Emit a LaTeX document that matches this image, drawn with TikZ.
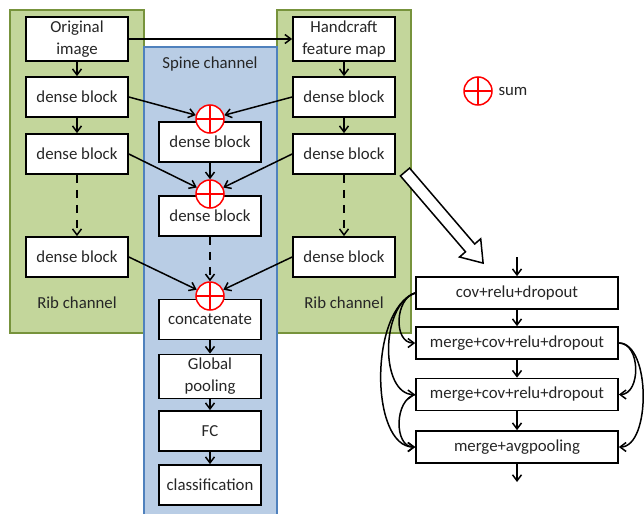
\documentclass[tikz,border=0pt]{standalone}
\usepackage{fontspec}
\setmainfont{Carlito}
\usetikzlibrary{arrows.meta}
\definecolor{ribfill}{HTML}{C3D69B}
\definecolor{ribdraw}{HTML}{77933C}
\definecolor{spinefill}{HTML}{B9CDE5}
\definecolor{spinedraw}{HTML}{4F81BD}
\newcommand{\twoline}[2]{\raisebox{-4pt}{\renewcommand{\arraystretch}{1.1}\begin{tabular}{@{}c@{}}#1\\#2\end{tabular}}}
\begin{document}
\begin{tikzpicture}[x=1pt,y=-1pt,
  txt/.style={font=\fontsize{16.8}{20}\selectfont, text=black!85},
  blk/.style={draw, line width=1.7pt, fill=white, minimum width=102pt, minimum height=40pt, inner sep=0pt, align=center, txt},
  fbox/.style={draw, line width=1.7pt, fill=white, minimum width=202pt, minimum height=32pt, inner sep=0pt, txt},
  sumc/.style={circle, draw=red, line width=1.5pt, fill=white, minimum size=28pt, inner sep=0pt,
    path picture={\draw[red, line width=1.2pt] (path picture bounding box.north) -- (path picture bounding box.south) (path picture bounding box.west) -- (path picture bounding box.east);}},
  arr/.style={-{Straight Barb[length=6pt,width=9pt]}, line width=1.5pt},
  dsh/.style={dash pattern=on 8pt off 7pt},
]
\useasboundingbox (0,0) rectangle (644,514);
\fill[white] (0,0) rectangle (644,514);
% panels
\draw[ribdraw, fill=ribfill, line width=1.5pt] (10,10) rectangle (144,333);
\draw[ribdraw, fill=ribfill, line width=1.5pt] (277,10) rectangle (411,333);
\fill[spinefill] (144,47) rectangle (277,514);
\draw[spinedraw, line width=1.2pt] (144,514) -- (144,47) -- (277,47) -- (277,514);
% labels
\node[txt] (spl) at (210,64) {Spine channel};
\node[txt] (rll) at (77,303) {Rib channel};
\node[txt] (rlr) at (344,303) {Rib channel};
% left column
\node[blk] (orig) at (77,39) {\twoline{Original}{image}};
\node[blk] (l1) at (77,97) {dense block};
\node[blk] (l2) at (77,154) {dense block};
\node[blk] (l3) at (77,257) {dense block};
% right column
\node[blk] (hand) at (344,39) {\twoline{Handcraft}{feature map}};
\node[blk] (r1) at (344,97) {dense block};
\node[blk] (r2) at (344,154) {dense block};
\node[blk] (r3) at (344,257) {dense block};
% spine
\node[blk] (s1) at (210,142) {dense block};
\node[blk] (s2) at (210,216) {dense block};
\node[blk] (cat) at (210,319.5) {concatenate};
\node[blk] (gp) at (210,376.5) {\twoline{Global}{pooling}};
\node[blk] (fc) at (210,431) {FC};
\node[blk] (cls) at (210,485) {classification};
\node[sumc] (c1) at (210,119) {};
\node[sumc] (c2) at (210,194) {};
\node[sumc] (c3) at (210,296) {};
% legend
\node[sumc] (leg) at (478,91) {};
\node[txt, anchor=west] (legt) at (495,91) {sum};
% arrows
\draw[arr] (orig.east) -- (hand.west);
\draw[arr] (orig) -- (l1);
\draw[arr] (l1) -- (l2);
\draw[arr, dsh] (l2) -- (l3);
\draw[arr] (hand) -- (r1);
\draw[arr] (r1) -- (r2);
\draw[arr, dsh] (r2) -- (r3);
\draw[arr] (s1) -- (c2);
\draw[arr, dsh] (s2) -- (c3);
\draw[arr] (cat) -- (gp);
\draw[arr] (gp) -- (fc);
\draw[arr] (fc) -- (cls);
\draw[arr] (l1.east) -- (c1);
\draw[arr] (r1.west) -- (c1);
\draw[arr] (l2.east) -- (c2);
\draw[arr] (r2.west) -- (c2);
\draw[arr] (l3.east) -- (c3);
\draw[arr] (r3.west) -- (c3);
% hollow arrow
\draw[line width=1.5pt, fill=white, line join=miter] (409.6,168.1) -- (474.7,244.0) -- (480.7,238.8) -- (483.1,263.1) -- (459.5,257.0) -- (465.5,251.8) -- (400.4,175.9) -- cycle;
% flow chart
\node[fbox] (f1) at (517,293) {cov+relu+dropout};
\node[fbox] (f2) at (517,343) {merge+cov+relu+dropout};
\node[fbox] (f3) at (517,394.5) {merge+cov+relu+dropout};
\node[fbox] (f4) at (517,447) {merge+avgpooling};
\coordinate (fin) at (517,257);
\coordinate (fout) at (517,482);
\draw[arr] (fin) -- (f1);
\draw[arr] (f1) -- (f2);
\draw[arr] (f2) -- (f3);
\draw[arr] (f3) -- (f4);
\draw[arr] (f4) -- (fout);
\draw[arr] (f1.west) .. controls (395,298) and (393,343) .. (f2.west);
\draw[arr] (f1.west) .. controls (380,305) and (380,394.5) .. (f3.west);
\draw[arr] (f1.west) .. controls (369,310) and (370,447) .. (f4.west);
\draw[arr] (f3.west) .. controls (394,400) and (394,447) .. (f4.west);
\draw[arr] (f2.east) .. controls (641,343) and (641,394.5) .. (f3.east);
\draw[arr] (f2.east) .. controls (651,343) and (651,447) .. (f4.east);
\end{tikzpicture}
\end{document}
